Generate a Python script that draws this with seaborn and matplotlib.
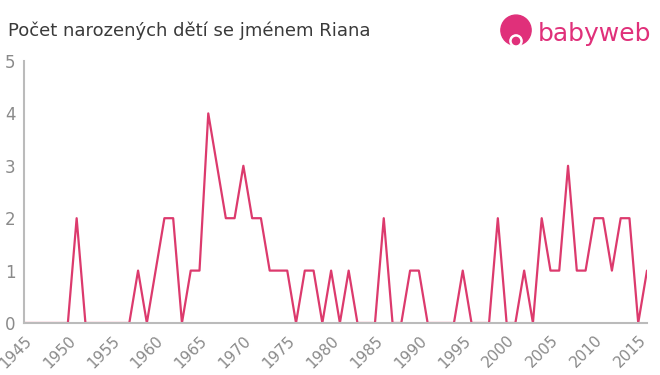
import numpy as np
import pandas as pd
import matplotlib
matplotlib.use("Agg")
import matplotlib.pyplot as plt
import seaborn as sns
from matplotlib.patches import Circle

years = list(range(1945, 2017))
counts = [0, 0, 0, 0, 0, 0, 2, 0, 0, 0,   # 1945-1954
          0, 0, 0, 1, 0, 1, 2, 2, 0, 1,   # 1955-1964
          1, 4, 3, 2, 2, 3, 2, 2, 1, 1,   # 1965-1974
          1, 0, 1, 1, 0, 1, 0, 1, 0, 0,   # 1975-1984
          0, 2, 0, 0, 1, 1, 0, 0, 0, 0,   # 1985-1994
          1, 0, 0, 0, 2, 0, 0, 1, 0, 2,   # 1995-2004
          1, 1, 3, 1, 1, 2, 2, 1, 2, 2,   # 2005-2014
          0, 1]                           # 2015-2016
xticks = list(range(1945, 2016, 5))
yticks = [0, 1, 2, 3, 4, 5]
title = "Počet narozených dětí se jménem Riana"

df = pd.DataFrame({"year": years, "count": counts})

sns.set_style("white")
plt.rcParams['font.family'] = ['DejaVu Sans']

fig = plt.figure(figsize=(6.6, 3.75), dpi=100)
ax = fig.add_axes([24/660, 1-323/375, (647-24)/660, (323-61)/375])
sns.lineplot(data=df, x="year", y="count", ax=ax, color="#dc3a6d", linewidth=1.6)

ax.set_xlim(1945, 2016)
ax.set_ylim(0, 5)
ax.set_xticks(xticks)
ax.set_yticks(yticks)
ax.set_xticklabels([str(x) for x in xticks], rotation=45, ha="right", rotation_mode="anchor",
                   fontsize=11, color="#8a8a8a")
ax.set_yticklabels([str(y) for y in yticks], fontsize=12, color="#8a8a8a")
ax.set_xlabel("")
ax.set_ylabel("")
for s in ["top", "right"]:
    ax.spines[s].set_visible(False)
for s in ["left", "bottom"]:
    ax.spines[s].set_color("#bbbbbb")
    ax.spines[s].set_linewidth(1.5)
ax.tick_params(axis="both", which="both", length=4, width=1, color="#bbbbbb", pad=2)
ax.tick_params(axis="x", pad=3)
ax.grid(False)

fig.text(8/660, 1-31/375, title, fontsize=13, color="#3a3a3a", va="center", ha="left")

# logo
logo_ax = fig.add_axes([498/660, 1-50/375, 36/660, 36/375])
logo_ax.set_xlim(0, 1)
logo_ax.set_ylim(0, 1)
logo_ax.set_aspect("equal")
logo_ax.axis("off")
logo_ax.add_patch(Circle((0.5, 0.55), 0.42, color="#e0307a"))
logo_ax.add_patch(Circle((0.5, 0.25), 0.17, color="white"))
logo_ax.add_patch(Circle((0.5, 0.25), 0.1, color="#e0307a"))
fig.text(538/660, 1-34/375, "babyweb", fontsize=18, color="#e0307a", va="center", ha="left")

fig.savefig("out.png", dpi=100)
